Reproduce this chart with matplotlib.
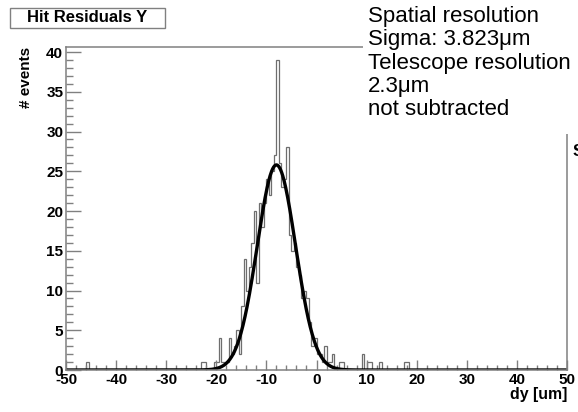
import numpy as np
import matplotlib.pyplot as plt
from matplotlib.patches import Rectangle
from matplotlib.ticker import MultipleLocator

plt.rcParams['font.family'] = ['Liberation Sans', 'DejaVu Sans']
plt.rcParams['axes.unicode_minus'] = False

# histogram: 200 bins of 0.5 um from -50 to 50, only non-empty bins listed
bin_left = [-46.0, -23.0, -22.5, -20.5, -20.0, -19.5, -19.0, -18.5, -18.0,
            -17.5, -17.0, -16.5, -16.0, -15.5, -15.0, -14.5, -14.0, -13.5,
            -13.0, -12.5, -12.0, -11.5, -11.0, -10.5, -10.0, -9.5, -9.0,
            -8.5, -8.0, -7.5, -7.0, -6.5, -6.0, -5.5, -5.0, -4.5, -4.0,
            -3.5, -3.0, -2.5, -2.0, -1.5, -1.0, -0.5, 0.0, 0.5, 1.0, 1.5,
            2.0, 2.5, 3.0, 4.5, 5.0, 9.0, 10.0, 10.5, 12.5, 17.5, 18.0]
counts = [1, 1, 1, 1, 1, 4, 1, 1, 1,
          4, 2, 3, 5, 2, 8, 14, 10, 13,
          16, 20, 11, 21, 18, 21, 24, 22, 25,
          27, 39, 26, 23, 24, 28, 17, 15, 16, 13,
          12, 9, 10, 9, 6, 3, 4, 2, 2, 1, 3,
          1, 1, 2, 1, 1, 2, 1, 1, 1, 1, 1]

# gaussian fit
fit_amp = 25.8
fit_mean = -8.0
fit_sigma = 3.823

edges = np.arange(-50, 50.001, 0.5)
hist = np.zeros(len(edges) - 1)
for e, c in zip(bin_left, counts):
    hist[int(round((e + 50) / 0.5))] = c

fig = plt.figure(figsize=(5.78, 4.12), dpi=100)
W, H = 578, 412
ax = fig.add_axes([66 / W, 1 - 370 / H, (567 - 66) / W, (370 - 46.5) / H])

ax.stairs(hist, edges, color='#6e6e6e', lw=0.9)
xf = np.linspace(-50, 50, 1000)
ax.plot(xf, fit_amp * np.exp(-0.5 * ((xf - fit_mean) / fit_sigma) ** 2),
        color='black', lw=2.4)

ax.set_xlim(-50, 50)
ax.set_ylim(0, 40.7)
for s in ax.spines.values():
    s.set_color('#808080')
    s.set_linewidth(1.1)

ax.xaxis.set_major_locator(MultipleLocator(10))
ax.xaxis.set_minor_locator(MultipleLocator(2))
ax.yaxis.set_major_locator(MultipleLocator(5))
ax.yaxis.set_minor_locator(MultipleLocator(1))
ax.tick_params(axis='x', which='major', direction='in', length=7, width=1,
               color='#808080', pad=2, labelsize=11)
ax.tick_params(axis='x', which='minor', direction='in', length=3.6, width=1,
               color='#808080')
ax.tick_params(axis='y', which='major', direction='in', length=10.8, width=1,
               color='#808080', pad=2, labelsize=11)
ax.tick_params(axis='y', which='minor', direction='in', length=5, width=1,
               color='#808080')
for lab in ax.get_xticklabels() + ax.get_yticklabels():
    lab.set_fontweight('bold')

fig.text(567 / W, 1 - 395 / H, 'dy [um]', ha='right', va='center',
         fontsize=11.4, fontweight='bold')
fig.text(26 / W, 1 - 47 / H, '# events', ha='center', va='top',
         rotation=90, fontsize=11, fontweight='bold')

# title box
fig.patches.append(Rectangle((10 / W, 1 - 27.5 / H), 155 / W, 20 / H,
                             transform=fig.transFigure, facecolor='white',
                             edgecolor='#808080', lw=1, zorder=5))
fig.text(87 / W, 1 - 17.5 / H, 'Hit Residuals Y', ha='center', va='center',
         fontsize=12, fontweight='bold', zorder=6)

# white text box covering the top-right of the frame
fig.patches.append(Rectangle((363 / W, 1 - 134 / H), (W - 363) / W, 134 / H,
                             transform=fig.transFigure, facecolor='white',
                             edgecolor='none', zorder=5))
lines = ['Spatial resolution', 'Sigma: 3.823\u03bcm', 'Telescope resolution',
         '2.3\u03bcm', 'not subtracted']
for i, t in enumerate(lines):
    fig.text(368 / W, 1 - (22 + 23.3 * i) / H, t, ha='left', va='baseline',
             fontsize=16, zorder=6)

# stats box peeking in at the right edge
fig.text(573 / W, 1 - 152 / H, 'S', ha='left', va='center', fontsize=12,
         fontweight='bold', zorder=6)

fig.savefig('out.png', dpi=100)
